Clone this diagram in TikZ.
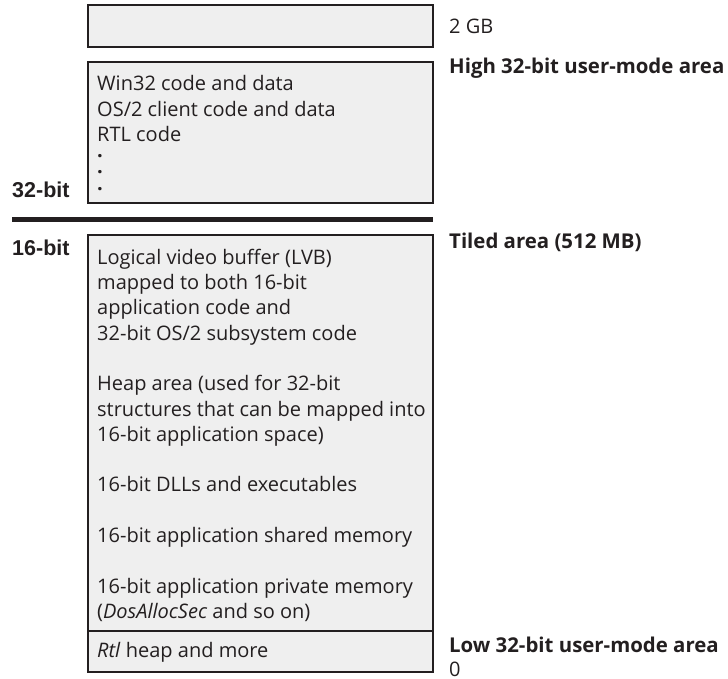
\documentclass[tikz,border=0pt]{standalone}
\usepackage{fontspec}
\setmainfont{Open Sans}
\newfontfamily\arialfont{Liberation Sans}

\definecolor{boxfill}{HTML}{EFEFEF}
\definecolor{ink}{HTML}{231F20}

\tikzset{
  region/.style={draw=ink, line width=2pt, fill=boxfill},
  boxtext/.style={anchor=north west, inner sep=0pt, align=left, text=ink,
    font=\fontsize{20}{25.3}\selectfont},
  sidelabel/.style={anchor=base west, inner sep=0pt, text=ink,
    font=\fontsize{20}{24}\selectfont},
  arealabel/.style={sidelabel, font=\fontsize{20.4}{24}\selectfont\bfseries},
  bitlabel/.style={anchor=base west, inner sep=0pt, text=ink,
    font=\arialfont\bfseries\fontsize{21.5}{25}\selectfont},
}

\begin{document}
\begin{tikzpicture}[x=1pt, y=-1pt]
  \useasboundingbox (0,0) rectangle (728,679);

  % Define the memory regions
  \def\topregion{(88,5) rectangle (433,47.5)}
  \def\highregion{(88,62) rectangle (433,203.5)}
  \def\tiledregion{(88,234.5) rectangle (433,631)}
  \def\lowregion{(88,631) rectangle (433,672)}

  % Fill and outline the regions
  \draw[region] \topregion;
  \draw[region] \highregion;
  \draw[region] \tiledregion;
  \draw[region] \lowregion;

  % Split between 32-bit and 16-bit
  \coordinate (split west) at (12,219.5);
  \coordinate (split east) at (433,219.5);
  \draw[ink, line width=5pt] (split west) -- (split east);
  \node[bitlabel] (bit32) at (12,198) {32-bit};
  \node[bitlabel] (bit16) at (12,255) {16-bit};

  % Contents of the high area (a strut fixes the first baseline)
  \node[boxtext] (win32) at (97,72.8) {\strut Win32 code and data\\OS/2 client code and data\\RTL code};
  \node[boxtext, font=\fontsize{20}{16.5}\selectfont\bfseries] (dots) at (97,145.5) {\strut.\\.\\.};

  % Contents of the tiled area
  \node[boxtext] (lvb) at (97,246.3) {\strut Logical video buffer (LVB)\\mapped to both 16-bit\\application code and\\32-bit OS/2 subsystem code};
  \node[boxtext] (heap) at (97,372.8) {\strut Heap area (used for 32-bit\\structures that can be mapped into\\16-bit application space)};
  \node[boxtext] (dlls) at (97,474.0) {\strut 16-bit DLLs and executables};
  \node[boxtext] (shared) at (97,524.6) {\strut 16-bit application shared memory};
  \node[boxtext] (private) at (97,575.2) {\strut 16-bit application private memory\\(\textit{DosAllocSec} and so on)};

  % Contents of the low area
  \node[sidelabel] (rtl) at (97,657) {\textit{Rtl} heap and more};

  % Labels on the right
  \node[sidelabel] (top) at (449,33.5) {2 GB};
  \node[arealabel] (high) at (449,74) {High 32-bit user-mode area};
  \node[arealabel] (tiled) at (449,248) {Tiled area (512 MB)};
  \node[arealabel] (low) at (449,652) {Low 32-bit user-mode area};
  \node[sidelabel] (zero) at (449,676.5) {0};
\end{tikzpicture}
\end{document}
